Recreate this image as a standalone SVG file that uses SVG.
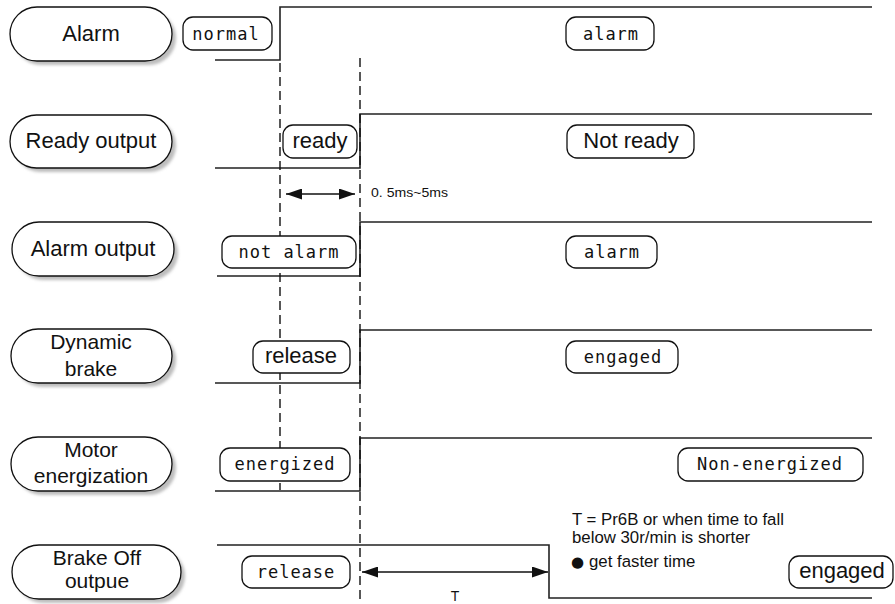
<svg xmlns="http://www.w3.org/2000/svg" width="895" height="604" viewBox="0 0 895 604">
<style>
.pill{fill:#fff;stroke:#111;stroke-width:1.3}
.shadow{fill:#bdbdbd;filter:url(#blur)}
.box{fill:#fff;stroke:#111;stroke-width:1.3}
.pt{font-family:"Liberation Sans",Arial,sans-serif;font-size:22px;fill:#111;text-anchor:middle}
.pt2{font-family:"Liberation Sans",Arial,sans-serif;font-size:21px;fill:#111;text-anchor:middle}
.lt{font-family:"Liberation Sans",Arial,sans-serif;font-size:22px;fill:#111;text-anchor:middle}
.mt{font-family:"DejaVu Sans Mono",monospace;font-size:17px;letter-spacing:1px;fill:#111;text-anchor:middle}
.sig{fill:none;stroke:#222;stroke-width:1.6}
.dash{fill:none;stroke:#111;stroke-width:1.4;stroke-dasharray:9 5}
.arr{fill:none;stroke:#111;stroke-width:1.4;marker-start:url(#ah);marker-end:url(#ah)}
.note{font-family:"Liberation Sans",Arial,sans-serif;font-size:16.8px;fill:#111}
.bullet{font-family:"DejaVu Sans",sans-serif;font-size:15px;fill:#111}
.small{font-family:"Liberation Sans",Arial,sans-serif;font-size:13px;fill:#111}
</style>
<defs>
<filter id="blur" x="-10%" y="-20%" width="120%" height="140%"><feGaussianBlur stdDeviation="1.5"/></filter>
<marker id="ah" markerUnits="userSpaceOnUse" markerWidth="17" markerHeight="11" refX="16" refY="5.5" orient="auto-start-reverse" viewBox="0 0 17 11"><path d="M0,0 L16,5.5 L0,11 z" fill="#111"/></marker>
</defs>
<rect width="895" height="604" fill="#fff"/>

<g id="connectors">
<path class="sig" d="M215,60 H280 V7 H872"/>
<path class="sig" d="M215,168 H360 V114 H872"/>
<path class="sig" d="M217,276 H360 V222 H872"/>
<path class="sig" d="M215,383 H360 V330 H872"/>
<path class="sig" d="M215,491 H360 V438 H872"/>
<path class="sig" d="M217,545 H549 V598 H872"/>
<line class="dash" x1="280" y1="63" x2="280" y2="490"/>
<line class="dash" x1="360" y1="58" x2="360" y2="604"/>
<line class="arr" x1="286" y1="194" x2="355" y2="194"/>
<line class="arr" x1="362" y1="572" x2="548" y2="572"/>
<text class="small" x="371" y="197" textLength="77" lengthAdjust="spacingAndGlyphs">0. 5ms~5ms</text>
<text class="small" x="455" y="601" text-anchor="middle" style="font-size:14px">T</text>
</g>

<g id="node-alarm">
<rect class="shadow" x="14" y="11" width="162" height="54" rx="27"/>
<rect class="pill" x="10" y="7" width="162" height="54" rx="27"/>
<text class="pt" x="91" y="41">Alarm</text>
</g>
<g id="node-ready-output">
<rect class="shadow" x="14" y="119" width="162" height="53" rx="26.5"/>
<rect class="pill" x="10" y="115" width="162" height="53" rx="26.5"/>
<text class="pt" x="91" y="148">Ready output</text>
</g>
<g id="node-alarm-output">
<rect class="shadow" x="16" y="226" width="162" height="54" rx="27"/>
<rect class="pill" x="12" y="222" width="162" height="54" rx="27"/>
<text class="pt" x="93" y="256">Alarm output</text>
</g>
<g id="node-dynamic-brake">
<rect class="shadow" x="15" y="333" width="161" height="54" rx="27"/>
<rect class="pill" x="11" y="329" width="161" height="54" rx="27"/>
<text class="pt2" x="91" y="349">Dynamic</text>
<text class="pt2" x="91" y="376">brake</text>
</g>
<g id="node-motor-energization">
<rect class="shadow" x="15" y="441" width="161" height="54" rx="27"/>
<rect class="pill" x="11" y="437" width="161" height="54" rx="27"/>
<text class="pt2" x="91" y="457">Motor</text>
<text class="pt2" x="91" y="483">energization</text>
</g>
<g id="node-brake-off">
<rect class="shadow" x="16" y="549" width="169" height="54" rx="27"/>
<rect class="pill" x="12" y="545" width="169" height="54" rx="27"/>
<text class="pt2" x="97" y="565">Brake Off</text>
<text class="pt2" x="97" y="588">outpue</text>
</g>

<g id="state-normal"><rect class="box" x="183" y="17" width="89" height="33" rx="10"/><text class="mt" x="226" y="40">normal</text></g>
<g id="state-alarm-1"><rect class="box" x="566" y="17" width="88" height="33" rx="10"/><text class="mt" x="611" y="40">alarm</text></g>
<g id="state-ready"><rect class="box" x="283" y="125" width="74" height="33" rx="10"/><text class="lt" x="320" y="148">ready</text></g>
<g id="state-not-ready"><rect class="box" x="567" y="125" width="127" height="33" rx="10"/><text class="lt" x="631" y="148">Not ready</text></g>
<g id="state-not-alarm"><rect class="box" x="222" y="236" width="134" height="32" rx="10"/><text class="mt" x="289" y="258">not alarm</text></g>
<g id="state-alarm-2"><rect class="box" x="566" y="236" width="91" height="32" rx="10"/><text class="mt" x="612" y="258">alarm</text></g>
<g id="state-release-1"><rect class="box" x="253" y="341" width="97" height="32" rx="10"/><text class="lt" x="301" y="363">release</text></g>
<g id="state-engaged-1"><rect class="box" x="566" y="341" width="112" height="32" rx="10"/><text class="mt" x="623" y="363">engaged</text></g>
<g id="state-energized"><rect class="box" x="220" y="448" width="130" height="33" rx="10"/><text class="mt" x="285" y="470">energized</text></g>
<g id="state-non-energized"><rect class="box" x="678" y="448" width="185" height="33" rx="10"/><text class="mt" x="770" y="470">Non-energized</text></g>
<g id="state-release-2"><rect class="box" x="242" y="556" width="108" height="32" rx="10"/><text class="mt" x="296" y="578">release</text></g>
<g id="state-engaged-2"><rect class="box" x="789" y="556" width="104" height="32" rx="10"/><text class="lt" x="842" y="578">engaged</text></g>

<g id="note">
<text class="note" x="572" y="525">T = Pr6B or when time to fall</text>
<text class="note" x="572" y="543">below 30r/min is shorter</text>
<text class="bullet" x="571" y="567">●</text>
<text class="note" x="589" y="567">get faster time</text>
</g>
</svg>
